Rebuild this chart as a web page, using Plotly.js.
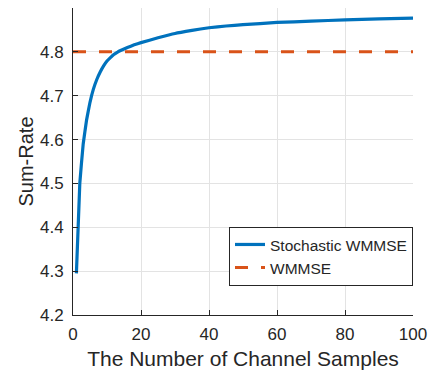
<!DOCTYPE html>
<html>
<head>
<meta charset="utf-8">
<script src="https://cdn.plot.ly/plotly-3.0.1.min.js"></script>
<style>html,body{margin:0;padding:0;background:#fff;}#chart{width:434px;height:375px;}</style>
</head>
<body>
<div id="chart"></div>
<script>
// Number of channel samples
var samples = [1,2,3,4,5,6,7,8,9,10,11,12,13,14,16,18,20,25,30,35,40,45,50,60,70,80,90,100];
// Stochastic WMMSE sum-rate
var stochasticWMMSE = [4.295,4.50,4.59,4.645,4.685,4.715,4.737,4.754,4.768,4.779,4.787,4.794,4.799,4.803,4.810,4.816,4.821,4.832,4.842,4.849,4.855,4.859,4.862,4.867,4.870,4.873,4.875,4.877];
// WMMSE baseline
var wmmseX = [0, 100];
var wmmseY = [4.8, 4.8];
var seriesNames = ['Stochastic WMMSE', 'WMMSE'];

var txt = '#262626';
var traces = [
  {x: samples, y: stochasticWMMSE, name: seriesNames[0], type: 'scatter', mode: 'lines',
   line: {color: '#0072BD', width: 3.2, shape: 'spline', smoothing: 0.3}},
  {x: wmmseX, y: wmmseY, name: seriesNames[1], type: 'scatter', mode: 'lines',
   line: {color: '#D95319', width: 3, dash: '13px,13px'}}
];
var layout = {
  width: 434, height: 375,
  margin: {l: 73, r: 21, t: 8, b: 60},
  paper_bgcolor: '#fff', plot_bgcolor: '#fff',
  font: {family: 'Liberation Sans, Arial, sans-serif', color: txt, size: 17},
  xaxis: {range: [0, 100], dtick: 20, tick0: 0, showgrid: true, gridcolor: '#e3e3e3', gridwidth: 1,
          zeroline: false, showline: true, linecolor: txt, linewidth: 1, ticks: 'inside', ticklen: 5,
          tickcolor: txt, tickfont: {size: 17, color: txt}, ticklabelstandoff: 4,
          title: {text: 'The Number of Channel Samples', font: {size: 21, color: txt}, standoff: 7}},
  yaxis: {range: [4.2, 4.9], dtick: 0.1, tick0: 4.2, tickformat: '.1f', showgrid: true, gridcolor: '#e3e3e3', gridwidth: 1,
          zeroline: false, showline: true, linecolor: txt, linewidth: 1, ticks: 'inside', ticklen: 5,
          tickcolor: txt, tickfont: {size: 17, color: txt}, ticklabelstandoff: 5,
          title: {text: 'Sum-Rate', font: {size: 20, color: txt}, standoff: 0}},
  showlegend: true,
  legend: {x: 1, xanchor: 'right', y: 0.287, yanchor: 'top', bgcolor: '#fff', bordercolor: txt, borderwidth: 1,
           font: {size: 15.5, color: txt}, tracegroupgap: 0, itemwidth: 30}
};
Plotly.newPlot('chart', traces, layout, {displayModeBar: false, staticPlot: true});
</script>
</body>
</html>
